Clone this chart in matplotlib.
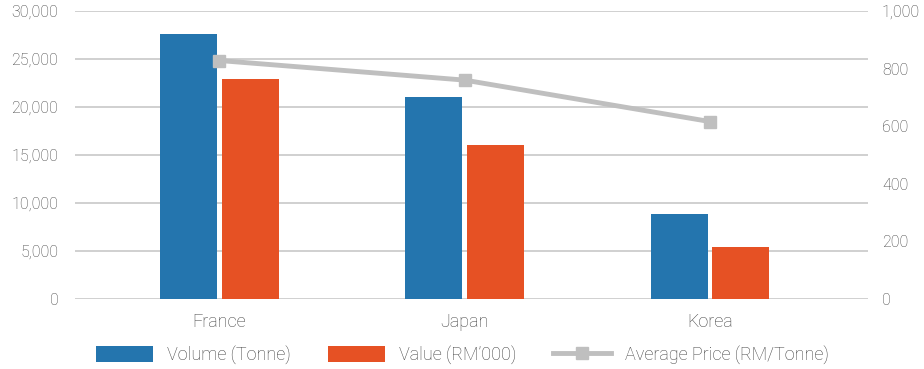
import numpy as np
import matplotlib.pyplot as plt
from matplotlib.patches import Patch
from matplotlib.lines import Line2D
from matplotlib.ticker import FuncFormatter

countries = ['France', 'Japan', 'Korea']
volume = [27600, 21000, 8850]          # Tonne
value = [22900, 16000, 5400]           # RM'000
avg_price = [828, 760, 616]            # RM/Tonne

blue = '#2475ae'
orange = '#e65124'
grey_line = '#bfbfbf'
text_col = '#404040'

plt.rcParams['font.family'] = ['Roboto', 'DejaVu Sans']
plt.rcParams['font.weight'] = 'light'

fig = plt.figure(figsize=(9.24, 3.69), dpi=100)
ax = fig.add_axes([75/924, 70/369, 793/924, 288/369])
ax2 = ax.twinx()

x = np.arange(len(countries))
w = 0.232
gap = 0.01
ax.bar(x - w/2 - gap, volume, w, color=blue, zorder=2)
ax.bar(x + w/2 + gap, value, w, color=orange, zorder=2)

ax2.plot(x, avg_price, color=grey_line, linewidth=3.5, marker='s',
         markersize=9, zorder=3)

ax.set_xlim(-0.589, 2.644)
ax.set_ylim(0, 30000)
ax.set_yticks(np.arange(0, 30001, 5000))
ax.yaxis.set_major_formatter(FuncFormatter(lambda v, p: f'{int(v):,}'))
ax2.set_ylim(0, 1000)
ax2.set_yticks(np.arange(0, 1001, 200))
ax2.yaxis.set_major_formatter(FuncFormatter(lambda v, p: f'{int(v):,}'))

ax.grid(axis='y', color='#c8c8c8', linewidth=1.2, zorder=0)
ax.set_axisbelow(True)
ax.set_xticks(x)
ax.set_xticklabels(countries)

for a in (ax, ax2):
    for s in a.spines.values():
        s.set_visible(False)
    a.tick_params(length=0, labelsize=11.5, colors=text_col)
ax.tick_params(axis='y', pad=12)
ax2.tick_params(axis='y', pad=10)
ax.tick_params(axis='x', pad=10, labelsize=13)

handles = [
    Patch(facecolor=blue),
    Patch(facecolor=orange),
    Line2D([], [], color=grey_line, linewidth=3.5, marker='s', markersize=9),
]
labels = ['Volume (Tonne)', 'Value (RM\u2019000)', 'Average Price (RM/Tonne)']
leg = fig.legend(handles, labels, loc='center', bbox_to_anchor=(0.5, 14/369),
                 ncol=3, frameon=False, fontsize=13, handlelength=3.2,
                 handleheight=1.0, columnspacing=2.05, handletextpad=0.75)
for t in leg.get_texts():
    t.set_color(text_col)

fig.savefig('out.png', dpi=100)
